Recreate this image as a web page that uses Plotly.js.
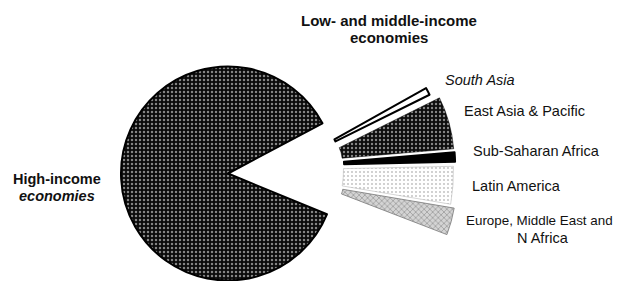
<!DOCTYPE html>
<html><head><meta charset="utf-8">
<script src="https://cdn.plot.ly/plotly-3.0.1.min.js"></script>
<style>
html,body{margin:0;padding:0;width:618px;height:281px;overflow:hidden;background:#fff;}
#chart{position:absolute;left:-150px;top:-150px;width:918px;height:581px;}
</style></head><body><div id="chart"></div>
<script>
// ---------------- data (shares of total, %) ----------------
const groupNames = ['Low- and middle-income economies', 'High-income economies'];
const highIncomeShare = 86.0;
const regionNames = ['South Asia', 'East Asia & Pacific', 'Sub-Saharan Africa', 'Latin America', 'Europe, Middle East and N Africa'];
const regionShares = [0.8, 6.0, 1.0, 3.0, 3.2];

// ---------------- layout geometry (window pixels) ----------------
const PAD = 150, VW = 618, VH = 281, W = VW + 2 * PAD, H = VH + 2 * PAD;
function dom(cx, cy, r) {
  return {x: [(cx + PAD - r) / W, (cx + PAD + r) / W],
          y: [(H - (cy + PAD) - r) / H, (H - (cy + PAD) + r) / H]};
}
function px(x) { return (x + PAD) / W; }
function py(y) { return 1 - (y + PAD) / H; }

const bigPie = {cx: 228, cy: 173.5, r: 107, start: 62.0};
const subStart = 60.7;
const sliceGeom = [
  {cx: 295.2, cy: 161.5, ro: 150, ri: 45},
  {cx: 313.2, cy: 160.6, ro: 141, ri: 29},
  {cx: 304.1, cy: 165.0, ro: 151, ri: 40},
  {cx: 251.5, cy: 170.6, ro: 202, ri: 92},
  {cx: 319.1, cy: 185.3, ro: 137, ri: 24}
];
const NONE = 'rgba(0,0,0,0)';
const sliceStyle = [
  {color: '#ffffff', shape: '', bg: '#ffffff', fg: '#ffffff', size: 4, sol: 0.2, line: '#000', lw: 2},
  {color: '#111111', shape: '.', bg: '#0d0d0d', fg: '#ffffff', size: 4, sol: 0.28, line: '#000', lw: 0.5},
  {color: '#000000', shape: '', bg: '#000000', fg: '#000000', size: 4, sol: 0.2, line: '#000', lw: 2},
  {color: '#ffffff', shape: '.', bg: '#ffffff', fg: '#7a7a7a', size: 4, sol: 0.16, line: '#aaa', lw: 0.5},
  {color: '#bbbbbb', shape: 'x', bg: '#d4d4d4', fg: '#4a4a4a', size: 4, sol: 0.3, line: '#777', lw: 0.8}
];

const total = highIncomeShare + regionShares.reduce((a, b) => a + b, 0);
const lowMid = regionShares.reduce((a, b) => a + b, 0);

const traces = [];
// main pie: high-income slice, low/middle part left as an empty gap
traces.push({
  type: 'pie', sort: false, direction: 'clockwise', rotation: bigPie.start,
  labels: groupNames, values: [lowMid, highIncomeShare],
  domain: dom(bigPie.cx, bigPie.cy, bigPie.r),
  textinfo: 'none', hoverinfo: 'none', showlegend: false,
  marker: {
    colors: [NONE, '#0d0d0d'],
    line: {color: [NONE, '#000'], width: [0, 2]},
    pattern: {shape: ['', '.'], bgcolor: [NONE, '#0a0a0a'], fgcolor: [NONE, '#ffffff'],
              size: [4, 4], solidity: [0.2, 0.3], fillmode: 'overlay'}
  }
});

// exploded low- and middle-income regions
let cum = 0;
regionShares.forEach((v, i) => {
  const g = sliceGeom[i], s = sliceStyle[i];
  traces.push({
    type: 'pie', sort: false, direction: 'clockwise',
    rotation: subStart + 360 * cum / total,
    labels: [regionNames[i], 'other'], values: [v, total - v],
    hole: g.ri / g.ro,
    domain: dom(g.cx, g.cy, g.ro),
    textinfo: 'none', hoverinfo: 'none', showlegend: false,
    marker: {
      colors: [s.color, NONE],
      line: {color: [s.line, NONE], width: [s.lw, 0]},
      pattern: {shape: [s.shape, ''], bgcolor: [s.bg, NONE], fgcolor: [s.fg, NONE],
                size: [s.size, 4], solidity: [s.sol, 0.2], fillmode: 'overlay'}
    }
  });
  cum += v;
});

const FONT = 'Liberation Sans, Arial, Helvetica, sans-serif';
function ann(text, x, y, size) {
  return {text: text, xref: 'paper', yref: 'paper', x: px(x), y: py(y),
          xanchor: 'center', yanchor: 'middle', showarrow: false, align: 'center',
          font: {family: FONT, size: size, color: '#111'}};
}
const annotations = [
  ann('<b>Low- and middle-income</b>', 389, 20, 15),
  ann('<b>economies</b>', 389, 38, 15),
  ann('<b>High-income</b>', 57, 179, 14.5),
  ann('<b><i>economies</i></b>', 57, 196, 14.5),
  ann('<i>' + regionNames[0] + '</i>', 480, 80, 14.5),
  ann(regionNames[1], 524, 111, 14.5),
  ann(regionNames[2], 536, 151, 14.5),
  ann(regionNames[3], 516, 185.5, 14.5),
  ann('Europe, Middle East and', 539.5, 220, 13.4),
  ann('N Africa', 543, 237.5, 14.5)
];

Plotly.newPlot('chart', traces, {
  width: W, height: H, margin: {l: 0, r: 0, t: 0, b: 0},
  paper_bgcolor: '#ffffff', showlegend: false, annotations: annotations
}, {staticPlot: true, displayModeBar: false});
</script></body></html>
